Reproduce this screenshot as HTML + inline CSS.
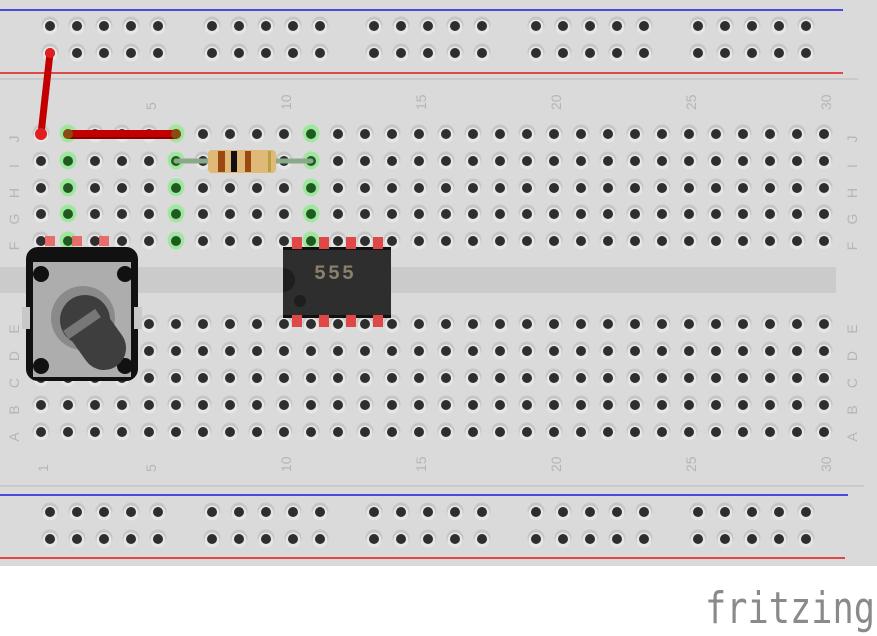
<!DOCTYPE html>
<html><head><meta charset="utf-8"><style>
html,body{margin:0;padding:0;background:#fff;width:877px;height:636px;overflow:hidden}
svg{display:block}
.lbl{font-family:"Liberation Sans",sans-serif;font-size:14px;fill:#b5b5b5}
</style></head><body>
<svg id="s" width="877" height="636" viewBox="0 0 877 636" xmlns="http://www.w3.org/2000/svg">
<rect x="0" y="0" width="877" height="566" fill="#dadada"/>
<line x1="0" y1="10" x2="843" y2="10" stroke="#1a1adb" stroke-width="1.5"/>
<line x1="0" y1="73" x2="843" y2="73" stroke="#e01818" stroke-width="1.5"/>
<line x1="0" y1="79" x2="858" y2="79" stroke="#b9b9b9" stroke-width="1"/>
<line x1="0" y1="486" x2="864" y2="486" stroke="#b9b9b9" stroke-width="1"/>
<line x1="0" y1="495" x2="848" y2="495" stroke="#1a1adb" stroke-width="1.5"/>
<line x1="0" y1="558" x2="845" y2="558" stroke="#e01818" stroke-width="1.5"/>
<rect x="0" y="267" width="836" height="26" fill="#cbcbcb"/>
<g id="holes"></g>
<g class="lbl">
<text transform="translate(156,110) rotate(-90)">5</text>
<text transform="translate(291,110) rotate(-90)">10</text>
<text transform="translate(426,110) rotate(-90)">15</text>
<text transform="translate(561,110) rotate(-90)">20</text>
<text transform="translate(696,110) rotate(-90)">25</text>
<text transform="translate(831,110) rotate(-90)">30</text>
<text transform="translate(48,472) rotate(-90)">1</text>
<text transform="translate(156,472) rotate(-90)">5</text>
<text transform="translate(291,472) rotate(-90)">10</text>
<text transform="translate(426,472) rotate(-90)">15</text>
<text transform="translate(561,472) rotate(-90)">20</text>
<text transform="translate(696,472) rotate(-90)">25</text>
<text transform="translate(831,472) rotate(-90)">30</text>
</g>
<g class="lbl" id="rows"></g>
<line x1="50" y1="53" x2="41" y2="134" stroke="#c20000" stroke-width="7" stroke-linecap="round"/>
<circle cx="50" cy="53" r="5" fill="#e02020"/><circle cx="41" cy="134" r="6" fill="#e02020"/>
<line x1="68" y1="134" x2="176" y2="134" stroke="#c20000" stroke-width="8"/>
<line x1="68" y1="138" x2="176" y2="138" stroke="#8a0000" stroke-width="2"/>
<circle cx="68" cy="134" r="5" fill="#8a4a10"/><circle cx="176" cy="134" r="5" fill="#8a4a10"/>
<line x1="176" y1="161" x2="311" y2="161" stroke="#8aa88a" stroke-width="5" stroke-linecap="round"/>
<rect x="208" y="150" width="68" height="23" rx="4" fill="#e0b878"/>
<rect x="218" y="151" width="7" height="21" fill="#9a4a10"/>
<rect x="231" y="151" width="6" height="21" fill="#111"/>
<rect x="245" y="151" width="6" height="21" fill="#9a4a10"/>
<rect x="268" y="151" width="3" height="21" fill="#b8a040"/>
<rect x="26" y="247" width="112" height="134" rx="12" fill="#111"/>
<rect x="33" y="262" width="98" height="115" fill="#adadad"/>
<rect x="22" y="307" width="8" height="22" fill="#c8c8c8"/><rect x="134" y="307" width="8" height="22" fill="#c8c8c8"/>
<circle cx="41" cy="274" r="8" fill="#111"/><circle cx="125" cy="274" r="8" fill="#111"/>
<circle cx="41" cy="366" r="8" fill="#111"/><circle cx="125" cy="366" r="8" fill="#111"/>
<circle cx="83" cy="318" r="32" fill="#8a8a8a"/>
<circle cx="85" cy="320" r="25" fill="#3e3e3e"/>
<line x1="84" y1="320" x2="104" y2="348" stroke="#3e3e3e" stroke-width="44" stroke-linecap="round"/>
<line x1="66" y1="335" x2="98" y2="313" stroke="#777" stroke-width="10"/>
<rect x="283" y="247" width="108" height="71" fill="#2e2e2e"/>
<rect x="283" y="247" width="108" height="3" fill="#111"/><rect x="283" y="315" width="108" height="3" fill="#111"/>
<circle cx="300" cy="301" r="6" fill="#1e1e1e"/>
<path d="M283,268 A12,12 0 0 1 283,292 Z" fill="#1e1e1e"/>
<text x="335" y="279" text-anchor="middle" font-family="Liberation Mono,monospace" font-weight="bold" font-size="20" fill="#8a7f6e" letter-spacing="2">555</text>
<g id="pins"></g>
<text x="705" y="623" textLength="170" lengthAdjust="spacingAndGlyphs" font-family="DejaVu Sans Mono,Liberation Mono,monospace" font-size="44" fill="#8a8a8a">fritzing</text>
</svg>
<script>
var g=document.getElementById('holes'),h='';
function hole(x,y,gr){h+='<circle cx="'+x+'" cy="'+(y-1)+'" r="8.5" fill="'+(gr?'#9fe79f':'#c6c6c6')+'"/><circle cx="'+x+'" cy="'+(y+1)+'" r="7.5" fill="'+(gr?'#9fe79f':'#e6e6e6')+'"/><circle cx="'+x+'" cy="'+y+'" r="5" fill="'+(gr?'#215a21':'#2e2e2e')+'"/>';}
var groups=[50,212,374,536,698];
[26,53,512,539].forEach(function(y){groups.forEach(function(s){for(var i=0;i<5;i++)hole(s+27*i,y,false);});});
var rt=[134,161,188,214,241],rb=[324,351,378,405,432];
for(var c=0;c<30;c++){var x=41+27*c;rt.forEach(function(y){hole(x,y,(c==1||c==5||c==10));});rb.forEach(function(y){hole(x,y,false);});}
g.innerHTML=h;
var p='';[50,77,104].forEach(function(x){p+='<rect x="'+(x-5)+'" y="236" width="10" height="10" fill="#e86060" opacity="0.9"/>';});
[297,324,351,378].forEach(function(x){p+='<rect x="'+(x-5)+'" y="237" width="10" height="12" fill="#e04848"/><rect x="'+(x-5)+'" y="315" width="10" height="12" fill="#e04848"/>';});
document.getElementById('pins').innerHTML=p;
var r='',L='JIHGF',L2='EDCBA';
for(var i=0;i<5;i++){[19,857].forEach(function(x){r+='<text transform="translate('+x+','+(rt[i]+5)+') rotate(-90)" text-anchor="middle">'+L[i]+'</text><text transform="translate('+x+','+(rb[i]+5)+') rotate(-90)" text-anchor="middle">'+L2[i]+'</text>';});}
document.getElementById('rows').innerHTML=r;
</script>
</body></html>
